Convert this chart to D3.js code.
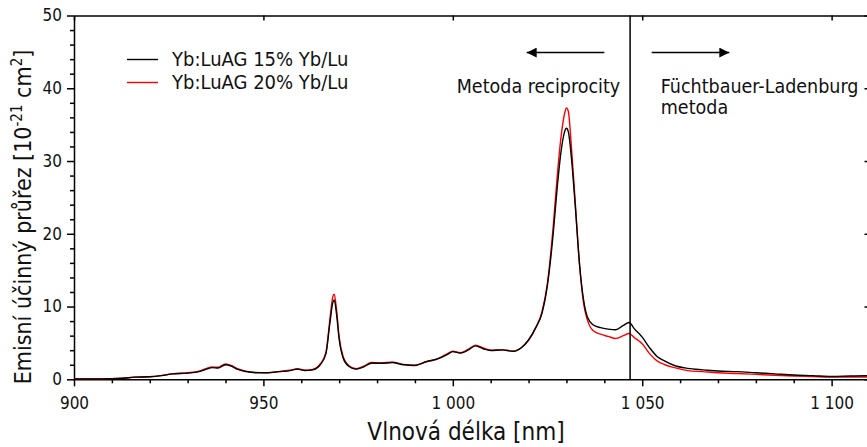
<!DOCTYPE html>
<html><head><meta charset="utf-8">
<script src="https://cdn.jsdelivr.net/npm/d3@7/dist/d3.min.js"></script>
<style>
body{margin:0;background:#fff;overflow:hidden}
text{font-family:"DejaVu Sans Condensed","DejaVu Sans",sans-serif;font-stretch:condensed;fill:#111}
</style></head><body><svg id="c" width="867" height="447"></svg>
<script>
// ---- data ----
const wavelength=[900,905,910,913,916,920,923,926,930,933,935,936.5,938,940,941.5,943,945,948,951,954,957,959,961,963,965,966.5,967.5,968.3,968.7,969.3,970,971,972.5,974.5,976.5,978.5,981,984,987,990,993,996,998.5,1000,1002,1004,1006,1008,1010,1013,1016,1018,1020,1022,1023.5,1025,1026.5,1027.5,1028.5,1029.5,1030,1030.5,1031.3,1032.3,1033.5,1034.5,1035.5,1037,1039,1041,1043,1045,1046.5,1048,1050,1052,1054,1056,1058.5,1062,1066,1070,1075,1080,1085,1090,1095,1100,1105,1110];
const yb15=[0.05,0.05,0.08,0.15,0.3,0.35,0.5,0.75,0.85,1.05,1.4,1.6,1.55,2.0,1.8,1.4,1.1,0.9,0.9,1.05,1.2,1.4,1.2,1.3,2.0,3.5,7.5,10.5,10.9,9.0,5.5,3.0,1.8,1.4,1.7,2.2,2.2,2.3,2.0,1.9,2.4,2.8,3.4,3.8,3.6,4.0,4.6,4.2,3.95,4.05,3.85,4.3,5.4,7.2,9.0,13,20,26,31,34,34.5,34,30.5,24,15.5,11,8.6,7.5,7.1,6.9,6.8,7.4,7.8,6.9,5.8,4.3,3.1,2.5,1.9,1.5,1.3,1.15,1.05,0.9,0.75,0.6,0.5,0.38,0.45,0.5];
const yb20=[0.05,0.05,0.08,0.15,0.3,0.35,0.5,0.75,0.9,1.1,1.5,1.7,1.65,2.1,1.9,1.5,1.15,0.95,0.9,1.05,1.25,1.45,1.25,1.35,2.1,3.7,8.0,11.3,11.7,9.6,5.8,3.2,1.9,1.45,1.8,2.3,2.25,2.35,2.05,1.95,2.45,2.85,3.5,3.85,3.65,4.1,4.7,4.3,4.0,4.05,3.85,4.3,5.4,7.2,9.2,13.3,21,27.5,33,36.5,37.3,36.8,32,24.5,15.5,10.5,8.2,6.7,6.2,5.9,5.6,6.0,6.3,5.7,4.9,3.5,2.5,2.0,1.6,1.2,1.05,0.9,0.8,0.68,0.55,0.45,0.38,0.3,0.32,0.32];
const seriesNames=["Yb:LuAG 15% Yb/Lu","Yb:LuAG 20% Yb/Lu"];
const seriesColors=["#000000","#ff0000"];
const xMajorTicks=[900,950,1000,1050,1100];
const yMajorTicks=[0,10,20,30,40,50];
const xDomain=[900,1110];
const yDomain=[0,50];
const methodBoundary=1046.8;
const leftLabel="Metoda reciprocity";
const rightLabel=["Füchtbauer-Ladenburg","metoda"];

// ---- layout ----
const svg=d3.select("#c");
const L=74,R=869.5,T=15.5,B=379.3;
const x=d3.scaleLinear().domain(xDomain).range([L,R]);
const y=d3.scaleLinear().domain(yDomain).range([B,T]);
const fmtX=v=>v>=1000?d3.format(",")(v).replace(","," "):String(v);

svg.append("clipPath").attr("id","clip").append("rect").attr("x",L).attr("y",T).attr("width",R-L).attr("height",B-T);

// minor ticks
const xMinor=d3.range(900,1111,10).filter(v=>!xMajorTicks.includes(v));
const yMinor=d3.range(0,51,2).filter(v=>!yMajorTicks.includes(v));
const axStyle=g=>{g.selectAll("path,line").attr("stroke","#000").attr("stroke-width",1.5);g.selectAll("text").remove();};
svg.append("g").attr("transform",`translate(0,${B})`).call(d3.axisBottom(x).tickValues(xMinor).tickSize(4).tickSizeOuter(0)).call(axStyle).select(".domain").remove();
svg.append("g").attr("transform",`translate(${L},0)`).call(d3.axisLeft(y).tickValues(yMinor).tickSize(4).tickSizeOuter(0)).call(axStyle).select(".domain").remove();

// major axes
const gx=svg.append("g").attr("transform",`translate(0,${B})`).call(d3.axisBottom(x).tickValues(xMajorTicks).tickFormat(fmtX).tickSize(7).tickSizeOuter(0).tickPadding(11));
const gy=svg.append("g").attr("transform",`translate(${L},0)`).call(d3.axisLeft(y).tickValues(yMajorTicks).tickSize(7).tickSizeOuter(0).tickPadding(5));
const gt=svg.append("g").attr("transform",`translate(0,${T})`).call(d3.axisBottom(x).tickValues(xMajorTicks).tickSize(5).tickSizeOuter(0));
const gr=svg.append("g").attr("transform",`translate(${R},0)`).call(d3.axisLeft(y).tickValues(yMajorTicks).tickSize(5).tickSizeOuter(0));
[gx,gy,gt,gr].forEach(g=>{g.selectAll("path,line").attr("stroke","#000").attr("stroke-width",1.5);g.selectAll("text").style("font-size","17px").attr("fill","#111");});
gt.selectAll("text").remove();gr.selectAll("text").remove();
gx.selectAll("text").attr("dy","0.71em");

// series
const line=d3.line().x((d,i)=>x(wavelength[i])).y(d=>y(d)).curve(d3.curveMonotoneX);
const plot=svg.append("g").attr("clip-path","url(#clip)");
[yb20,yb15].forEach((s,k)=>{
  plot.append("path").datum(s).attr("d",line).attr("fill","none").attr("stroke",k===0?seriesColors[1]:seriesColors[0]).attr("stroke-width",1.4).attr("stroke-linejoin","round");
});

// boundary line
svg.append("line").attr("x1",x(methodBoundary)).attr("x2",x(methodBoundary)).attr("y1",y(50)).attr("y2",y(0)).attr("stroke","#000").attr("stroke-width",1.5);

// arrows
svg.append("defs").append("marker").attr("id","ah").attr("viewBox","0 0 10 10").attr("refX",10).attr("refY",5)
  .attr("markerWidth",10).attr("markerHeight",10).attr("markerUnits","userSpaceOnUse").attr("orient","auto")
  .append("path").attr("d","M0,0L10,5L0,10Z").attr("fill","#000");
const arrows=[[1040,1019.5],[1052.5,1073]];
arrows.forEach(a=>svg.append("line").attr("x1",x(a[0])).attr("x2",x(a[1])).attr("y1",y(44.9)).attr("y2",y(44.9)).attr("stroke","#000").attr("stroke-width",1.5).attr("marker-end","url(#ah)"));

// annotation texts
svg.append("text").attr("x",x(1044.2)).attr("y",93).attr("text-anchor","end").style("font-size","19.5px").text(leftLabel);
svg.append("text").attr("x",x(1054.9)).attr("y",93).style("font-size","19.5px").text(rightLabel[0]);
svg.append("text").attr("x",x(1054.9)).attr("y",114).style("font-size","19.5px").text(rightLabel[1]);

// legend
seriesNames.forEach((n,i)=>{
  const ly=59.5+i*23;
  svg.append("line").attr("x1",127).attr("x2",158).attr("y1",ly).attr("y2",ly).attr("stroke",seriesColors[i]).attr("stroke-width",1.4);
  svg.append("text").attr("x",172).attr("y",ly+6.5).style("font-size","20px").text(n);
});

// axis titles
svg.append("text").attr("x",466).attr("y",440).attr("text-anchor","middle").style("font-size","24px").text("Vlnová délka [nm]");
const yt=svg.append("text").attr("transform","translate(31,217) rotate(-90)").attr("text-anchor","middle").style("font-size","23px");
yt.append("tspan").text("Emisní účinný průřez [10");
yt.append("tspan").attr("dy",-9).style("font-size","15px").text("-21");
yt.append("tspan").attr("dy",9).text(" cm");
yt.append("tspan").attr("dy",-9).style("font-size","15px").text("2");
yt.append("tspan").attr("dy",9).text("]");
</script></body></html>
